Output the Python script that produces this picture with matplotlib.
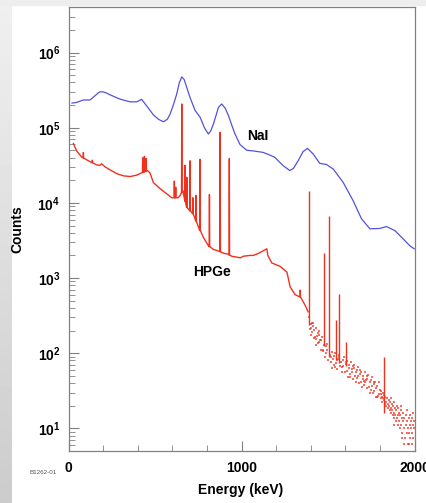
import numpy as np
import matplotlib
matplotlib.use("Agg")
import matplotlib.pyplot as plt
from matplotlib.ticker import MultipleLocator, LogLocator, FuncFormatter, NullFormatter

plt.rcParams.update(
    {
        "font.family": ["Liberation Sans", "DejaVu Sans"],
        "font.weight": "bold",
        "font.size": 10,
        "mathtext.fontset": "custom",
        "mathtext.bf": "Liberation Sans:bold",
        "mathtext.rm": "Liberation Sans:bold",
    }
)

# NaI spectrum (keV, counts)
nai_e = [19, 46, 85, 123, 152, 170, 181, 200, 220, 239, 297, 355, 393, 422, 451, 490, 520,
         548, 570, 586, 605, 625, 640, 654, 668, 685, 702, 731, 760, 785, 808, 822,
         837, 866, 885, 905, 924, 945, 962, 991, 1030, 1070, 1124, 1160, 1192, 1240,
         1279, 1300, 1327, 1355, 1381, 1414, 1452, 1491, 1530, 1587, 1645, 1693,
         1742, 1800, 1838, 1887, 1935, 1973, 1998]
nai_c = [213000, 217000, 234000, 234000, 266000, 290000, 300000, 300000, 288000, 274000, 240000,
         221000, 221000, 238000, 195000, 148000, 129000, 120000, 129000, 151000,
         200000, 282000, 398000, 475000, 437000, 331000, 251000, 170000, 138000,
         100000, 82400, 91200, 112000, 186000, 207000, 182000, 145000, 105000,
         82400, 59600, 50100, 49000, 47000, 43600, 40400, 31300, 26900, 28800,
         36300, 47900, 53100, 44700, 33600, 32400, 28200, 18800, 10700, 6170,
         4520, 4570, 4840, 4270, 3310, 2690, 2450]

# HPGe continuum below ~1390 keV
ge_e = [27, 46, 75, 114, 162, 180, 191, 210, 239, 278, 316, 355, 393, 422, 447,
        455, 470, 490, 528, 567, 596, 634, 645, 660, 670, 683, 721, 750, 779, 808,
        837, 866, 895, 918, 943, 993, 1010, 1049, 1068, 1100, 1146, 1152, 1161,
        1175, 1223, 1262, 1281, 1310, 1339, 1367, 1385]
ge_c = [61700, 49000, 40700, 36300, 32000, 31600, 33100, 30200, 27500, 24500,
        22900, 22400, 23400, 25100, 26300, 26900, 25100, 18600, 15500, 13200,
        11700, 11700, 12600, 14500, 11200, 8700, 7080, 4790, 3470, 2690, 2400,
        2290, 2140, 2090, 1950, 1860, 1950, 2000, 2000, 2140, 2450, 2000, 1820,
        1585, 1430, 1200, 760, 600, 560, 437, 355]

# HPGe lines sitting on the continuum
pk_e = [85, 137, 428, 438, 447, 611, 619, 654, 673, 683, 702, 718, 737, 760,
        814, 876, 929, 1339]
pk_c = [46800, 37000, 39800, 41700, 38900, 19500, 16200, 206500, 31600, 21900,
        36300, 11700, 12600, 38000, 12900, 87100, 38900, 690]

# HPGe lines in the low-count region (keV, base, top)
hi_e = [1387, 1477, 1506, 1547, 1564, 1601, 1825]
hi_lo = [240, 126, 90, 80, 74, 68, 16]
hi_hi = [14300, 2140, 6600, 275, 617, 141, 89]

# HPGe noisy tail
sc_e = [1392, 1396, 1399, 1403, 1406, 1410, 1413, 1417, 1421, 1424, 1428, 1431,
        1435, 1439, 1442, 1446, 1450, 1454, 1458, 1462, 1466, 1470, 1474, 1482,
        1486, 1490, 1494, 1498, 1512, 1516, 1520, 1524, 1528, 1532, 1536, 1540,
        1544, 1550, 1554, 1558, 1566, 1570, 1574, 1578, 1584, 1588, 1592, 1596,
        1604, 1608, 1612, 1616, 1620, 1624, 1628, 1632, 1636, 1640, 1644, 1648,
        1652, 1656, 1660, 1664, 1668, 1672, 1676, 1680, 1684, 1688, 1692, 1696,
        1700, 1704, 1708, 1712, 1716, 1720, 1724, 1728, 1732, 1736, 1740, 1744,
        1748, 1752, 1756, 1760, 1764, 1768, 1772, 1776, 1780, 1784, 1788, 1792,
        1796, 1800,
        1401, 1415, 1433, 1448, 1468, 1492, 1518, 1538, 1562, 1582, 1606, 1626,
        1646, 1666, 1686, 1706, 1726, 1746, 1766, 1786,
        1804, 1806, 1808, 1812, 1814, 1816, 1820, 1822, 1826, 1828,
        1832, 1834, 1838, 1840, 1844, 1846, 1850, 1852, 1856, 1858, 1862, 1864,
        1868, 1870, 1874, 1876, 1880, 1882, 1886, 1888, 1892, 1894, 1898, 1900,
        1904, 1906, 1910, 1912, 1916, 1918, 1922, 1924, 1928, 1930, 1934, 1936,
        1940, 1942, 1946, 1948, 1952, 1954, 1958, 1960, 1964, 1966, 1970, 1972,
        1976, 1978, 1982, 1984, 1988, 1990, 1994, 1996, 1998,
        1862, 1884, 1902, 1920, 1938, 1956, 1974, 1992, 1880, 1926, 1968, 1986]
sc_c = [300, 212, 242, 175, 253, 194, 256, 157, 203, 162, 214, 130, 168, 183,
        136, 197, 140, 149, 112, 149, 162, 112, 127, 88, 125, 102, 131, 80, 95,
        77, 103, 64, 84, 93, 69, 102, 73, 80, 62, 84, 94, 67, 77, 56, 82, 68, 90,
        56, 72, 58, 78, 48, 63, 69, 53, 77, 56, 61, 46, 63, 70, 50, 57, 41, 60,
        49, 65, 40, 53, 42, 56, 35, 46, 50, 38, 56, 41, 44, 34, 46, 51, 36, 41,
        30, 44, 37, 48, 30, 39, 31, 42, 26, 34, 37, 27, 41, 29, 32,
        217, 230, 156, 173, 106, 111, 90, 66, 89, 65, 76, 48, 68, 47, 59, 43,
        50, 32, 41, 26,
        28.75, 25,
        31.25, 26.25, 22.5, 30, 25, 27.5, 23.75, 21.25, 26.25, 22.5, 20, 25,
        21.25, 18.75, 23.75, 20, 17.5, 22.5, 18.75, 16.25, 21.25, 17.5, 15, 20,
        16.25, 13.75, 18.75, 15, 12.5, 17.5, 13.75, 20, 15, 11.25, 16.25, 12.5,
        10, 15, 11.25, 17.5, 13.75, 8.75, 12.5, 16.25, 10, 13.75, 7.5, 11.25, 15,
        8.75, 12.5, 10, 6.25, 13.75, 8.75, 11.25, 7.5, 12.5, 10, 6.25, 8.75,
        11.25, 7.5, 10, 12.5,
        25, 22.5, 18.75, 20, 6.25, 17.5, 15, 16.25, 11.25, 7.5, 6.25, 13.75]

blue = "#5252dc"
red = "#f2301e"
gray = "#808080"

# insert the narrow lines into the continuum
line_e = list(ge_e)
line_c = list(ge_c)
log_base = np.interp(pk_e, ge_e, np.log10(ge_c))
for e, top, b in zip(pk_e, pk_c, 10 ** log_base):
    line_e += [e - 1.5, e, e + 1.5]
    line_c += [b, top, b]
order = np.argsort(line_e, kind="stable")
line_e = np.array(line_e)[order]
line_c = np.array(line_c)[order]

fig = plt.figure(figsize=(4.26, 5.03), dpi=100)

# slide-like gray margins
bg = fig.add_axes([0, 0, 12 / 426, 1])
bg.imshow(np.linspace(0.94, 0.80, 100)[:, None], cmap="gray", vmin=0, vmax=1,
          aspect="auto", extent=[0, 1, 0, 1])
bg.axis("off")
fig.patches.append(plt.Rectangle((0, 1 - 5 / 503), 1, 5 / 503,
                                 transform=fig.transFigure, color="#eeeeee",
                                 zorder=0))

ax = fig.add_axes([68.7 / 426, 52 / 503, 345.8 / 426, 443.7 / 503])

ax.plot(nai_e, nai_c, color=blue, lw=0.9)
ax.plot(line_e, line_c, color=red, lw=1.0)
ax.vlines(hi_e, hi_lo, hi_hi, color=red, lw=1.0)
ax.plot(sc_e, sc_c, ls="none", marker="s", ms=1.6, mew=0, color=red, alpha=0.7)

ax.text(1095, 78000, "NaI", ha="center", va="center", fontsize=10, fontweight="bold")
ax.text(829, 1200, "HPGe", ha="center", va="center", fontsize=10, fontweight="bold")

ax.set_yscale("log")
ax.set_xlim(0, 2000)
ax.set_ylim(5, 4e6)

ax.xaxis.set_major_locator(MultipleLocator(1000))
ax.xaxis.set_minor_locator(MultipleLocator(200))
ax.yaxis.set_major_locator(LogLocator(base=10, numticks=10))
ax.yaxis.set_minor_locator(LogLocator(base=10, subs=np.arange(2, 10), numticks=20))
ax.yaxis.set_minor_formatter(NullFormatter())
ax.yaxis.set_major_formatter(
    FuncFormatter(lambda v, p: r"$\mathbf{10^{%d}}$" % round(np.log10(v)))
)

ax.tick_params(which="both", direction="in", color=gray, labelsize=10)
ax.tick_params(which="major", length=7, width=0.8)
ax.tick_params(which="minor", length=4, width=0.6)
ax.tick_params(axis="y", pad=6)
ax.tick_params(axis="x", pad=7)
for lab in ax.get_xticklabels():
    lab.set_fontweight("bold")
for s in ax.spines.values():
    s.set_color(gray)
    s.set_linewidth(0.9)

ax.set_xlabel("Energy (keV)", fontsize=10, fontweight="bold")
ax.set_ylabel("Counts", fontsize=10, fontweight="bold")
ax.xaxis.set_label_coords(0.498, -0.072)
ax.yaxis.set_label_coords(-0.129, 0.5)

fig.text(30 / 426, 1 - 473 / 503, "B1262-01", fontsize=4.5, color="#555555",
         fontweight="normal", va="center")

fig.savefig("out.png", dpi=100, facecolor="white")
